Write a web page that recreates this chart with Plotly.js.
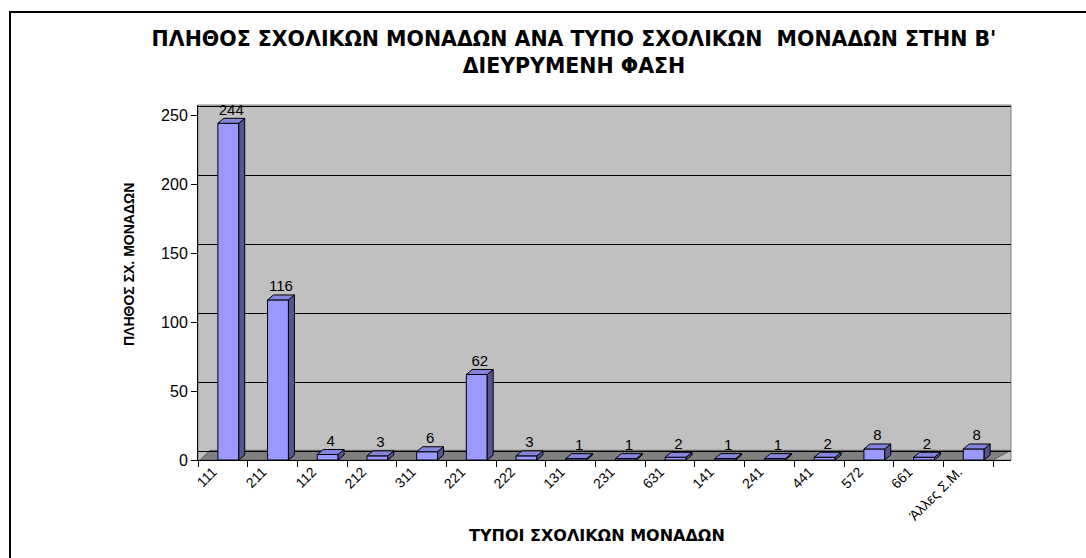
<!DOCTYPE html>
<html>
<head>
<meta charset="utf-8">
<script src="https://cdn.plot.ly/plotly-3.0.1.min.js"></script>
<style>html,body{margin:0;padding:0;background:#fff}#chart{width:1086px;height:558px}</style>
</head>
<body>
<div id="chart"></div>
<script>
// ---- data ----
const categories = ["111","211","112","212","311","221","222","131","231","631","141","241","441","572","661","Άλλες Σ.Μ."];
const counts = [244,116,4,3,6,62,3,1,1,2,1,1,2,8,2,8];
const chartTitle = "ΠΛΗΘΟΣ ΣΧΟΛΙΚΩΝ ΜΟΝΑΔΩΝ ΑΝΑ ΤΥΠΟ ΣΧΟΛΙΚΩΝ  ΜΟΝΑΔΩΝ ΣΤΗΝ Β'<br>ΔΙΕΥΡΥΜΕΝΗ ΦΑΣΗ";
const xTitle = "ΤΥΠΟΙ ΣΧΟΛΙΚΩΝ ΜΟΝΑΔΩΝ";
const yTitle = "ΠΛΗΘΟΣ ΣΧ. ΜΟΝΑΔΩΝ";

// ---- styling / geometry (pixels -> paper) ----
const W = 1086, H = 558;
const px = v => v / W, py = v => 1 - v / H;
const FONT = "Liberation Sans, Arial, sans-serif";
const TFONT = "DejaVu Sans, Liberation Sans, sans-serif";
const barOff = -0.1, barW = 0.42;     // front face of bar relative to category centre
const dX = 0.12, dY = 3.6;             // 3D depth offset (axis units)
const xRange = [-0.5, 15.86];
const yTop = 257.25;
const wallShift = 6.5;                 // back-wall gridlines sit slightly higher
const labelShift = -0.2;               // tick labels sit left of the bar centres

const idx = categories.map((c, i) => i);

// 3D side and top faces built from the data
const sideX = [], sideY = [], topX = [], topY = [], lblX = [], lblY = [];
counts.forEach((v, i) => {
  const l = i + barOff, r = l + barW;
  sideX.push(r, r + dX, r + dX, r, r, null);
  sideY.push(0, dY, v + dY, v, 0, null);
  topX.push(l, r, r + dX, l + dX, l, null);
  topY.push(v, v, v + dY, v + dY, v, null);
  lblX.push(l + (barW + dX) / 2);
  lblY.push(v + dY);
});

const traces = [
  {type: "bar", x: categories, y: counts, width: barW, offset: barOff,
   marker: {color: "#9999ff", line: {color: "#000", width: 1}},
   hoverinfo: "x+y", showlegend: false},
  {type: "scatter", xaxis: "x2", x: sideX, y: sideY, mode: "lines", fill: "toself",
   fillcolor: "#55558f", line: {color: "#000", width: 1}, hoverinfo: "skip", showlegend: false},
  {type: "scatter", xaxis: "x2", x: topX, y: topY, mode: "lines", fill: "toself",
   fillcolor: "#8585dd", line: {color: "#000", width: 1}, hoverinfo: "skip", showlegend: false},
  {type: "scatter", xaxis: "x2", x: lblX, y: lblY, mode: "text", text: counts.map(String),
   textposition: "top center", textfont: {family: FONT, size: 15, color: "#000"},
   hoverinfo: "skip", showlegend: false, cliponaxis: false},
  // invisible trace so the wall-grid axis is drawn
  {type: "scatter", xaxis: "x2", yaxis: "y2", x: [0], y: [0], mode: "markers",
   marker: {opacity: 0}, hoverinfo: "skip", showlegend: false}
];

const layout = {
  width: W, height: H,
  margin: {l: 0, r: 0, t: 0, b: 0},
  paper_bgcolor: "#fff", plot_bgcolor: "#c0c0c0",
  font: {family: FONT, color: "#000"},
  title: {text: "<b>" + chartTitle + "</b>", font: {family: TFONT, size: 20.5, color: "#000"},
          xref: "paper", x: px(574), xanchor: "center", yref: "paper", y: py(46), yanchor: "top"},
  bargap: 0,
  xaxis: {type: "category", domain: [px(198), px(1011)], range: xRange,
          tickson: "boundaries", ticks: "outside", ticklen: 6, tickcolor: "#000",
          showline: true, linecolor: "#000", linewidth: 1, showgrid: false,
          showticklabels: false, anchor: "y", fixedrange: true},
  xaxis2: {domain: [px(198), px(1011)], range: xRange, overlaying: "x", anchor: "y",
           side: "bottom", showline: false, showgrid: false, zeroline: false, ticks: "",
           tickmode: "array", tickvals: idx.map(i => i + labelShift), ticktext: categories,
           tickangle: -45, tickfont: {family: FONT, size: 14, color: "#000"}, fixedrange: true},
  yaxis: {domain: [py(460), py(105)], range: [0, yTop], dtick: 50, tick0: 0,
          ticks: "outside", ticklen: 6, tickcolor: "#000", showline: true, linecolor: "#000",
          showgrid: false, zeroline: false,
          tickfont: {family: FONT, size: 16, color: "#000"}, anchor: "x", fixedrange: true},
  yaxis2: {domain: [py(460), py(105)], range: [-wallShift, yTop - wallShift], dtick: 50, tick0: 0,
           overlaying: "y", anchor: "x", showticklabels: false, ticks: "", showline: false,
           showgrid: true, gridcolor: "#000", gridwidth: 1, zeroline: false, fixedrange: true},
  shapes: [
    {type: "path", xref: "x2", yref: "y", layer: "below",
     path: "M -0.46 0 L 15.5 0 L 15.86 7 L -0.26 7 Z",
     fillcolor: "#808080", line: {color: "#606060", width: 1}},
    {type: "rect", xref: "paper", yref: "paper", x0: px(198), x1: px(1011), y0: py(460), y1: py(105),
     line: {color: "#808080", width: 1}, layer: "below"},
    {type: "rect", xref: "paper", yref: "paper", x0: px(10), x1: 1.05, y0: -0.05, y1: py(12),
     line: {color: "#000", width: 2}, fillcolor: "rgba(0,0,0,0)", layer: "above"}
  ],
  annotations: [
    {text: "<b>" + yTitle + "</b>", xref: "paper", yref: "paper", x: px(119), y: py(265),
     textangle: -90, showarrow: false, font: {family: FONT, size: 14, color: "#000"}},
    {text: "<b>" + xTitle + "</b>", xref: "paper", yref: "paper", x: px(597), y: py(547),
     showarrow: false, font: {family: TFONT, size: 16, color: "#000"}}
  ]
};

Plotly.newPlot("chart", traces, layout, {displayModeBar: false, staticPlot: true});
</script>
</body>
</html>
